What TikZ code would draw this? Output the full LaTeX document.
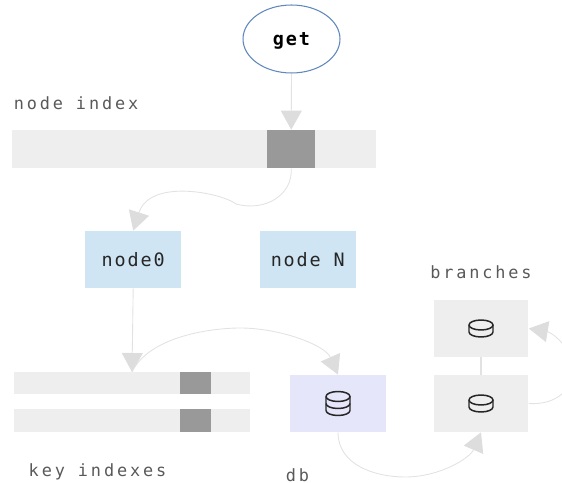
\documentclass[tikz,border=0pt]{standalone}
\usepackage{fontspec}
\usetikzlibrary{arrows.meta,shapes.geometric}
\newfontfamily\monofont[LetterSpace=10]{DejaVu Sans Mono}
\newfontfamily\capfont[LetterSpace=17]{DejaVu Sans Mono}
\definecolor{linegray}{HTML}{E2E2E2}
\definecolor{tipgray}{HTML}{DDDDDD}
\definecolor{bargray}{HTML}{EEEEEE}
\definecolor{markgray}{HTML}{999999}
\definecolor{nodeblue}{HTML}{CFE5F3}
\definecolor{dbviolet}{HTML}{E6E6FB}
\definecolor{ringblue}{HTML}{5F88BC}
\tikzset{
  flow/.style={draw=linegray, line width=0.5pt, -{Triangle[width=0.42cm,length=0.38cm,color=tipgray]}},
  link/.style={draw=linegray, line width=0.7pt},
  bar/.style={fill=bargray, inner sep=0pt, minimum width=#1},
  mark box/.style={fill=markgray, inner sep=0pt, minimum width=#1},
  shard/.style={fill=nodeblue, inner sep=0pt, minimum width=1.93cm, minimum height=1.14cm, font=\monofont\fontsize{10.5}{12}\selectfont, text=black!85},
  store/.style={fill=#1, inner sep=0pt, minimum width=1.9cm, minimum height=1.14cm},
  caption/.style={font=\capfont\fontsize{9.6}{11}\selectfont, text=black!65, inner sep=0pt},
  pics/disks/.style={code={
    \pgfmathsetmacro{\topy}{-(#1-1)*3.5}
    \draw[line width=0.85pt, black!85] (-12,\topy) arc[start angle=180, end angle=540, x radius=12, y radius=5];
    \draw[line width=0.85pt, black!85] (-12,\topy) -- (-12,-\topy) arc[start angle=180, end angle=0, x radius=12, y radius=5] -- (12,\topy);
    \ifnum#1>2
      \draw[line width=0.85pt, black!85] (-12,0) arc[start angle=180, end angle=0, x radius=12, y radius=5];
    \fi
  }},
}
\begin{document}
\begin{tikzpicture}[x=0.02cm, y=-0.02cm]
  \useasboundingbox (0,0) rectangle (562,483);
  \node[draw=ringblue, fill=white, line width=0.6pt, ellipse, inner sep=0pt, minimum width=1.94cm, minimum height=1.36cm, text depth=0pt, font=\monofont\fontsize{10.5}{12}\bfseries\selectfont] (get) at (291.5,39) {get};
  \node[caption] (indexlabel) at (76,103) {node index};
  \node[bar=7.28cm, minimum height=0.76cm] (indexbar) at (194,149) {};
  \node[mark box=0.97cm, minimum height=0.76cm] (indexmark) at (291.2,149) {};
  \node[shard] (node0) at (133.2,259.5) {node0};
  \node[shard] (nodeN) at (307.8,259.5) {node N};
  \node[bar=4.72cm, minimum height=0.44cm] (keybar1) at (132,383) {};
  \node[bar=4.72cm, minimum height=0.46cm] (keybar2) at (132,420.5) {};
  \node[mark box=0.62cm, minimum height=0.44cm] (keymark1) at (195.5,383) {};
  \node[mark box=0.62cm, minimum height=0.46cm] (keymark2) at (195.5,420.5) {};
  \node[caption] (keylabel) at (97.5,472) {key indexes};
  \node[store=dbviolet, minimum width=1.93cm] (db) at (338,403.5) {};
  \node[caption] (dblabel) at (297.5,475) {db};
  \node[caption] (branchlabel) at (481,272) {branches};
  \node[store=bargray] (branchtop) at (481,328.5) {};
  \node[store=bargray] (branchlow) at (481,403.5) {};
  \pic at (db) {disks=3};
  \pic at (branchtop) {disks=2};
  \pic at (branchlow) {disks=2};
  \coordinate (keyentry) at (132,372);
  \draw[flow] (get.south) -- (indexmark.north);
  \draw[flow] (indexmark.south) .. controls (293,195) and (265,212) .. (236,204) .. controls (222,193) and (150,178) .. (node0.north);
  \draw[flow] (node0.south) -- (keyentry);
  \draw[flow] (keyentry) .. controls (150,335) and (215,328) .. (240,328) .. controls (280,328) and (325,345) .. (db.north);
  \draw[flow] (db.south) .. controls (338,465) and (375,477) .. (405,477) .. controls (440,477) and (470,458) .. (branchlow.south);
  \draw[link] (branchtop.south) -- (branchlow.north);
  \draw[flow] (branchlow.east) .. controls (550,405) and (572,395) .. (572,370) .. controls (572,345) and (550,332) .. (branchtop.east);
\end{tikzpicture}
\end{document}
